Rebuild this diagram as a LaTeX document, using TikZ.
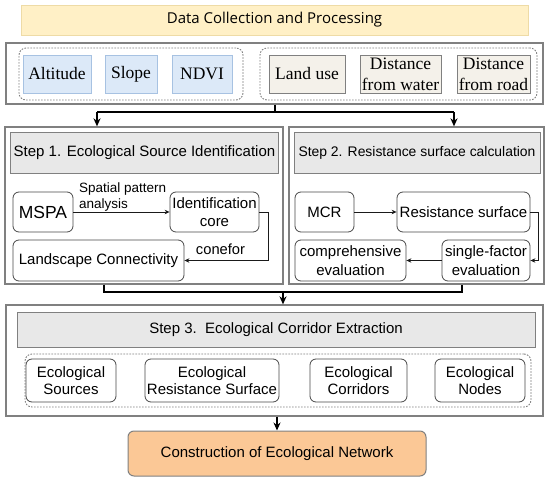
\documentclass[tikz,border=0pt]{standalone}
\usepackage{fontspec}
\setmainfont{Liberation Sans}
\newfontfamily\dataserif{Liberation Serif}
\newfontfamily\titlesans{Open Sans}
\usepackage{xcolor}
\usepackage{tikz}
\usetikzlibrary{positioning, arrows.meta}
\definecolor{tFill}{HTML}{FFF0C6}
\definecolor{tLine}{HTML}{EEDBA6}
\definecolor{bFill}{HTML}{DCE9F8}
\definecolor{bLine}{HTML}{A7C2E2}
\definecolor{eFill}{HTML}{F4F1EA}
\definecolor{gFill}{HTML}{E8E8E8}
\definecolor{fLine}{HTML}{808080}
\definecolor{oFill}{HTML}{FBC896}
\definecolor{nInk}{HTML}{1A1A1A}
\tikzset{
  frame/.style={draw=fLine, line width=1.3pt, fill=white, inner sep=0pt},
  grp/.style={draw=fLine, line width=0.9pt, dash pattern=on 1.6pt off 1.4pt,
    rounded corners=7pt, inner sep=0pt},
  titlebox/.style={draw=tLine, fill=tFill, line width=1pt,
    font=\titlesans\fontsize{15}{18}\selectfont},
  databox/.style={line width=1pt, inner sep=1pt, align=center,
    font=\dataserif\fontsize{17.5}{21}\selectfont},
  bluebox/.style={databox, draw=bLine, fill=bFill},
  beigebox/.style={databox, draw=fLine, fill=eFill},
  headbox/.style={draw=fLine, fill=gFill, line width=1pt,
    font=\fontsize{15}{18}\selectfont},
  rbox/.style={draw=nInk!80, line width=0.8pt, rounded corners=6pt, fill=white,
    inner sep=1pt, align=center, font=\fontsize{15}{18.5}\selectfont},
  ecobox/.style={rbox, font=\fontsize{15}{17.5}\selectfont},
  endbox/.style={draw=fLine, fill=oFill, line width=1pt, rounded corners=6pt,
    font=\fontsize{15}{18}\selectfont},
  lbl/.style={inner sep=0pt, align=left},
  flow/.style={-{Stealth[length=8pt,width=7pt]}, line width=1.4pt, black},
  link/.style={line width=1.4pt, black},
  small/.style={-{Stealth[length=5pt,width=4.5pt]}, line width=0.8pt, nInk},
}

\begin{document}
\begin{tikzpicture}[x=1pt, y=-1pt]
  \useasboundingbox (0,0) rectangle (550,482);
  % data collection
  \node[titlebox, minimum width=507, minimum height=30] (title) at (274.5,20) {Data Collection and Processing};
  \node[frame, minimum width=537, minimum height=61] (data) at (274.5,73.5) {};
  \node[grp, minimum width=224, minimum height=52] (natgrp) at (131,74) {};
  \node[grp, minimum width=277, minimum height=52] (humgrp) at (398.5,74) {};
  \node[bluebox, minimum width=68, minimum height=38] (alt) at (57,74) {Altitude};
  \node[bluebox, minimum width=52, minimum height=38] (slope) at (131,74) {Slope};
  \node[bluebox, minimum width=60, minimum height=38] (ndvi) at (202,74) {NDVI};
  \node[beigebox, minimum width=76, minimum height=38] (land) at (307,74) {Land use};
  \node[beigebox, minimum width=81, minimum height=38] (water) at (400.5,74) {Distance\\from water};
  \node[beigebox, minimum width=73, minimum height=38] (road) at (493.5,74) {Distance\\from road};

  % step 1
  \node[frame, minimum width=278, minimum height=157] (s1) at (144,205.5) {};
  \node[headbox, minimum width=263, minimum height=41] (h1) at (144.5,152.5) {Step 1. Ecological Source Identification};
  \node[rbox, minimum width=60, minimum height=40, font=\fontsize{17.5}{20}\selectfont] (mspa) at (43,212) {MSPA};
  \node[rbox, minimum width=89, minimum height=40] (core) at (214.5,212) {Identification\\core};
  \node[rbox, minimum width=171, minimum height=41] (conn) at (98.5,260.5) {Landscape Connectivity};
  \draw[small] (mspa) -- (core);
  \node[lbl, anchor=south west, font=\fontsize{13.5}{16}\selectfont] (spa) at (79,211) {Spatial pattern\\analysis};
  \draw[small] (core.east) -- ++(9,0) |- (conn.east);
  \node[lbl, anchor=base, font=\fontsize{14.7}{17}\selectfont] (cfr) at (220.5,254) {conefor};

  % step 2
  \node[frame, minimum width=255, minimum height=157] (s2) at (416.5,205.5) {};
  \node[headbox, minimum width=246, minimum height=41, font=\fontsize{13.9}{17}\selectfont] (h2) at (417,152.5) {Step 2. Resistance surface calculation};
  \node[rbox, minimum width=59, minimum height=40] (mcr) at (324.5,212) {MCR};
  \node[rbox, minimum width=133, minimum height=40] (res) at (463.5,212) {Resistance surface};
  \node[rbox, minimum width=88, minimum height=41] (single) at (486,260.5) {single-factor\\evaluation};
  \node[rbox, minimum width=111, minimum height=41] (comp) at (350.5,260.5) {comprehensive\\evaluation};
  \draw[small] (mcr) -- (res);
  \draw[small] (res.east) -- ++(8,0) |- (single.east);
  \draw[small] (single) -- (comp);

  % data -> steps
  \coordinate (dj) at (275,112);
  \coordinate (dl) at (97,112);
  \coordinate (dr) at (454,112);
  \draw[link] (data.south -| dj) -- (dj);
  \draw[link] (dl) -- (dr);
  \draw[flow] (dl) -- (dl |- s1.north);
  \draw[flow] (dr) -- (dr |- s2.north);

  % step 3
  \node[frame, minimum width=537, minimum height=111] (s3) at (274.5,360.5) {};
  \node[headbox, minimum width=518, minimum height=35] (h3) at (276,329.5) {Step 3.\ \ Ecological Corridor Extraction};
  \node[grp, minimum width=506, minimum height=53] (ecogrp) at (278,380.5) {};
  \node[ecobox, minimum width=90, minimum height=43] (esrc) at (71,380.5) {Ecological\\Sources};
  \node[ecobox, minimum width=134, minimum height=43] (eres) at (212,380.5) {Ecological\\Resistance Surface};
  \node[ecobox, minimum width=97, minimum height=43] (ecor) at (358.5,380.5) {Ecological\\Corridors};
  \node[ecobox, minimum width=90, minimum height=43] (enod) at (480,380.5) {Ecological\\Nodes};

  % steps -> step 3
  \coordinate (bl) at (104,292);
  \coordinate (br) at (462,292);
  \coordinate (bm) at (283,292);
  \draw[link] (bl |- s1.south) -- (bl) -- (br) -- (br |- s2.south);
  \draw[flow] (bm) -- (bm |- s3.north);

  % network
  \node[endbox, minimum width=298, minimum height=45] (net) at (277,453.5) {Construction of Ecological Network};
  \draw[flow] (s3.south -| net.north) -- (net.north);
\end{tikzpicture}
\end{document}
